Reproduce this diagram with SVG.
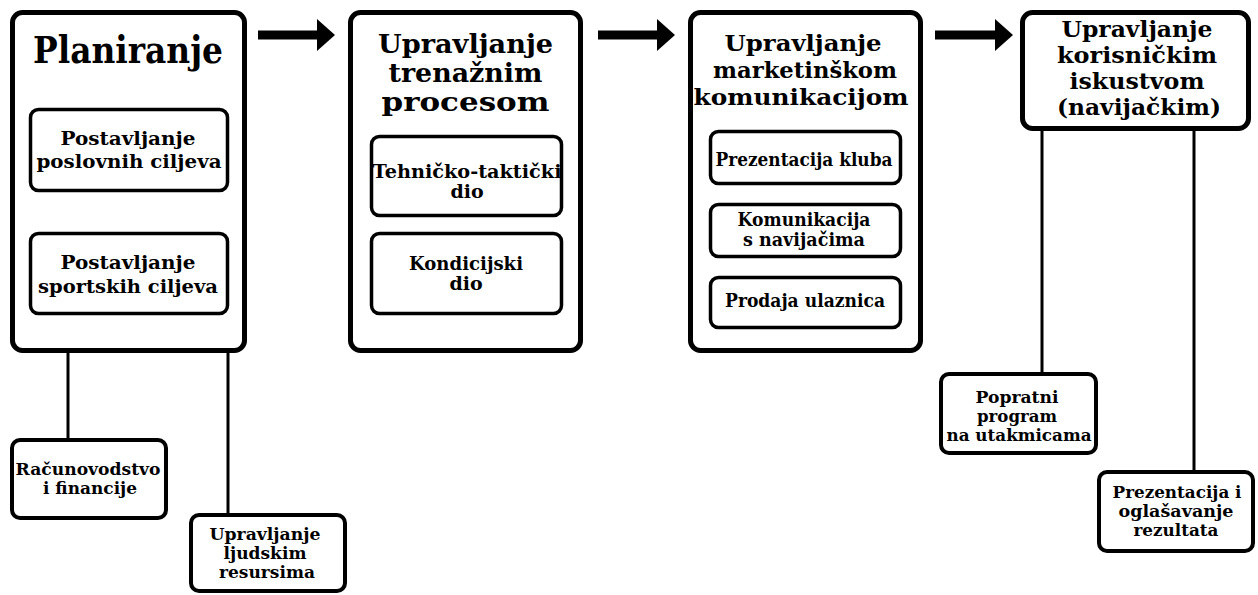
<svg xmlns="http://www.w3.org/2000/svg" width="1258" height="595" viewBox="0 0 1258 595">
<defs>
<style>
.main{fill:#fff;stroke:#000;stroke-width:5}
.sub{fill:#fff;stroke:#000;stroke-width:3.5}
.leaf{fill:#fff;stroke:#000;stroke-width:4}
.conn{stroke:#000;stroke-width:3;fill:none}
.arr{stroke:#000;stroke-width:9;fill:none}
text{font-family:"DejaVu Serif","Liberation Serif",serif;font-weight:bold;fill:#000;text-anchor:middle}
.t1{font-size:38px}
.t2{font-size:26px}
.t3{font-size:23px}
.t4{font-size:22px}
.s{font-size:19px}
.b{font-size:17px}
</style>
<marker id="head" markerUnits="userSpaceOnUse" markerWidth="18" markerHeight="32" refX="0" refY="16" orient="auto">
<path d="M0,0 L18,16 L0,32 z" fill="#000"/>
</marker>
</defs>

<g id="connectors">
<line class="arr" x1="258" y1="35" x2="317" y2="35" marker-end="url(#head)"/>
<line class="arr" x1="598" y1="35" x2="657" y2="35" marker-end="url(#head)"/>
<line class="arr" x1="935" y1="35" x2="995" y2="35" marker-end="url(#head)"/>
<line class="conn" x1="68" y1="352" x2="68" y2="440"/>
<line class="conn" x1="228" y1="352" x2="228" y2="515"/>
<line class="conn" x1="1042" y1="130" x2="1042" y2="374"/>
<line class="conn" x1="1194" y1="130" x2="1194" y2="472"/>
</g>

<g id="planiranje">
<rect class="main" x="12.5" y="12.5" width="232" height="338" rx="10"/>
<text class="t1" x="128" y="63" textLength="190" lengthAdjust="spacingAndGlyphs">Planiranje</text>
</g>
<g id="poslovni-ciljevi">
<rect class="sub" x="30.5" y="109.5" width="197" height="81" rx="8"/>
<text class="s" x="128" y="145" textLength="135" lengthAdjust="spacingAndGlyphs">Postavljanje</text>
<text class="s" x="129" y="168" textLength="185" lengthAdjust="spacingAndGlyphs">poslovnih ciljeva</text>
</g>
<g id="sportski-ciljevi">
<rect class="sub" x="30.5" y="233.5" width="197" height="80" rx="8"/>
<text class="s" x="128" y="269" textLength="135" lengthAdjust="spacingAndGlyphs">Postavljanje</text>
<text class="s" x="128" y="293" textLength="180" lengthAdjust="spacingAndGlyphs">sportskih ciljeva</text>
</g>

<g id="trenazni">
<rect class="main" x="350.5" y="12.5" width="230" height="338" rx="10"/>
<text class="t2" x="465.5" y="53" textLength="175" lengthAdjust="spacingAndGlyphs">Upravljanje</text>
<text class="t2" x="465.5" y="82" textLength="154" lengthAdjust="spacingAndGlyphs">trenažnim</text>
<text class="t2" x="465.5" y="111" textLength="168" lengthAdjust="spacingAndGlyphs">procesom</text>
</g>
<g id="tehnicko">
<rect class="sub" x="371.5" y="136.5" width="190" height="79" rx="8"/>
<text class="s" x="467" y="178" textLength="189" lengthAdjust="spacingAndGlyphs">Tehničko-taktički</text>
<text class="s" x="467" y="198">dio</text>
</g>
<g id="kondicijski">
<rect class="sub" x="371.5" y="233.5" width="190" height="80" rx="8"/>
<text class="s" x="466" y="270" textLength="114" lengthAdjust="spacingAndGlyphs">Kondicijski</text>
<text class="s" x="466" y="290">dio</text>
</g>

<g id="marketing">
<rect class="main" x="690.5" y="12.5" width="230" height="338" rx="10"/>
<text class="t3" x="803" y="51" textLength="157" lengthAdjust="spacingAndGlyphs">Upravljanje</text>
<text class="t3" x="805" y="78" textLength="184" lengthAdjust="spacingAndGlyphs">marketinškom</text>
<text class="t3" x="801" y="105" textLength="215" lengthAdjust="spacingAndGlyphs">komunikacijom</text>
</g>
<g id="prezentacija-kluba">
<rect class="sub" x="710.5" y="131.5" width="190" height="52" rx="8"/>
<text class="s" x="804" y="166" textLength="177" lengthAdjust="spacingAndGlyphs">Prezentacija kluba</text>
</g>
<g id="komunikacija">
<rect class="sub" x="710.5" y="204.5" width="190" height="52" rx="8"/>
<text class="s" x="804" y="226" textLength="133" lengthAdjust="spacingAndGlyphs">Komunikacija</text>
<text class="s" x="804" y="246" textLength="122" lengthAdjust="spacingAndGlyphs">s navijačima</text>
</g>
<g id="prodaja">
<rect class="sub" x="710.5" y="277.5" width="190" height="50" rx="8"/>
<text class="s" x="805" y="307" textLength="160" lengthAdjust="spacingAndGlyphs">Prodaja ulaznica</text>
</g>

<g id="korisnicko">
<rect class="main" x="1022.5" y="12.5" width="226" height="116" rx="10"/>
<text class="t4" x="1137" y="37" textLength="151" lengthAdjust="spacingAndGlyphs">Upravljanje</text>
<text class="t4" x="1137" y="63" textLength="160" lengthAdjust="spacingAndGlyphs">korisničkim</text>
<text class="t4" x="1137" y="89" textLength="135" lengthAdjust="spacingAndGlyphs">iskustvom</text>
<text class="t4" x="1139" y="115" textLength="164" lengthAdjust="spacingAndGlyphs">(navijačkim)</text>
</g>

<g id="racunovodstvo">
<rect class="leaf" x="12" y="440" width="154" height="78" rx="8"/>
<text class="b" x="88" y="475" textLength="145" lengthAdjust="spacingAndGlyphs">Računovodstvo</text>
<text class="b" x="90" y="494" textLength="94" lengthAdjust="spacingAndGlyphs">i financije</text>
</g>
<g id="ljudski-resursi">
<rect class="leaf" x="191" y="515" width="154" height="76" rx="8"/>
<text class="b" x="265" y="540" textLength="111" lengthAdjust="spacingAndGlyphs">Upravljanje</text>
<text class="b" x="265" y="559" textLength="83" lengthAdjust="spacingAndGlyphs">ljudskim</text>
<text class="b" x="267" y="578" textLength="96" lengthAdjust="spacingAndGlyphs">resursima</text>
</g>
<g id="popratni">
<rect class="leaf" x="941" y="374" width="155" height="79" rx="8"/>
<text class="b" x="1017" y="403" textLength="83" lengthAdjust="spacingAndGlyphs">Popratni</text>
<text class="b" x="1017" y="422" textLength="80" lengthAdjust="spacingAndGlyphs">program</text>
<text class="b" x="1019" y="441" textLength="145" lengthAdjust="spacingAndGlyphs">na utakmicama</text>
</g>
<g id="prezentacija-rezultata">
<rect class="leaf" x="1099" y="472" width="154" height="79" rx="8"/>
<text class="b" x="1177" y="498" textLength="129" lengthAdjust="spacingAndGlyphs">Prezentacija i</text>
<text class="b" x="1176" y="517" textLength="115" lengthAdjust="spacingAndGlyphs">oglašavanje</text>
<text class="b" x="1176" y="536" textLength="85" lengthAdjust="spacingAndGlyphs">rezultata</text>
</g>
</svg>
